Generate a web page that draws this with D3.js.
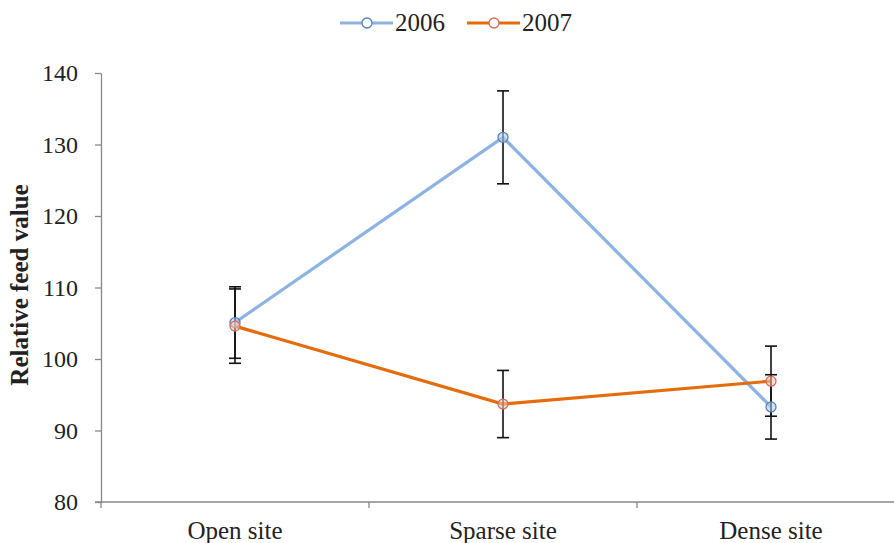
<!DOCTYPE html>
<html>
<head>
<meta charset="utf-8">
<script src="https://cdn.jsdelivr.net/npm/d3@7"></script>
<style>
  body { margin: 0; background: #fff; }
  svg text { font-family: "Liberation Serif", "DejaVu Serif", serif !important; fill: #222; }
</style>
</head>
<body>
<div class="chart"></div>
<script>
// data
const sites = ["Open site", "Sparse site", "Dense site"];
const years = ["2006", "2007"];
const mean2006 = [105.1, 131.0, 93.3];
const err2006 = [5.0, 6.5, 4.5];
const mean2007 = [104.6, 93.7, 96.9];
const err2007 = [5.2, 4.7, 4.9];
const yTicks = [80, 90, 100, 110, 120, 130, 140];

const lineColors = ["#8db3e2", "#e46c0a"];
const markerStroke = ["#4f81bd", "#d9695f"];
const markerFill = ["#b9d0ee", "#f3c7b0"];

const series = [
    { name: years[0], means: mean2006, errs: err2006 },
    { name: years[1], means: mean2007, errs: err2007 }
];

const width = 894, height = 543;

const svg = d3.select("div.chart")
    .append("svg")
    .attr("width", width)
    .attr("height", height)
    .style("font-family", "Liberation Serif, serif");

const x = d3.scaleBand()
    .domain(sites)
    .range([101, 905]);

const y = d3.scaleLinear()
    .domain([80, 140])
    .range([502, 73]);

// y axis
const yAxis = svg.append("g")
    .attr("transform", "translate(101,0)")
    .call(d3.axisLeft(y).tickValues(yTicks).tickSize(6).tickSizeOuter(0).tickPadding(17));
yAxis.attr("font-family", "Liberation Serif, serif");
yAxis.select(".domain").attr("stroke", "#888").attr("stroke-width", 1.3);
yAxis.selectAll(".tick line").attr("stroke", "#888").attr("stroke-width", 1.3);
yAxis.selectAll(".tick text")
    .style("font-size", "24px")
    .attr("fill", "#222");

// x axis
const xAxisG = svg.append("g").attr("transform", "translate(0,502)");
xAxisG.append("line")
    .attr("x1", 95).attr("x2", width)
    .attr("stroke", "#888").attr("stroke-width", 1.3);
xAxisG.selectAll("line.tk")
    .data(sites)
    .enter()
    .append("line")
    .attr("class", "tk")
    .attr("x1", d => x(d)).attr("x2", d => x(d))
    .attr("y1", 0).attr("y2", 6)
    .attr("stroke", "#888").attr("stroke-width", 1.3);
xAxisG.selectAll("text")
    .data(sites)
    .enter()
    .append("text")
    .attr("x", d => x(d) + x.bandwidth() / 2)
    .attr("y", 37)
    .attr("text-anchor", "middle")
    .style("font-size", "25px")
    .text(d => d);

// y title
svg.append("text")
    .attr("transform", "translate(28,285) rotate(-90)")
    .attr("text-anchor", "middle")
    .style("font-size", "25px")
    .style("font-weight", "bold")
    .text("Relative feed value");

const cx = d => x(d) + x.bandwidth() / 2;

// lines
const line = d3.line()
    .x((d, i) => cx(sites[i]))
    .y(d => y(d));

series.forEach(function (s, k) {
    svg.append("path")
        .datum(s.means)
        .attr("fill", "none")
        .attr("stroke", lineColors[k])
        .attr("stroke-width", 3.2)
        .attr("d", line);
});

// error bars
series.forEach(function (s, k) {
    const g = svg.append("g");
    s.means.forEach(function (m, i) {
        const px = cx(sites[i]);
        g.append("line")
            .attr("x1", px).attr("x2", px)
            .attr("y1", y(m + s.errs[i])).attr("y2", y(m - s.errs[i]))
            .attr("stroke", "#111").attr("stroke-width", 1.6);
        [m + s.errs[i], m - s.errs[i]].forEach(function (v) {
            g.append("line")
                .attr("x1", px - 6).attr("x2", px + 6)
                .attr("y1", y(v)).attr("y2", y(v))
                .attr("stroke", "#111").attr("stroke-width", 1.6);
        });
    });
});

// markers
series.forEach(function (s, k) {
    svg.selectAll("circle.s" + k)
        .data(s.means)
        .enter()
        .append("circle")
        .attr("class", "s" + k)
        .attr("cx", (d, i) => cx(sites[i]))
        .attr("cy", d => y(d))
        .attr("r", 5)
        .attr("fill", markerFill[k])
        .attr("fill-opacity", 0.6)
        .attr("stroke", markerStroke[k])
        .attr("stroke-width", 1.3);
});

// legend
const legend = svg.append("g").attr("transform", "translate(340,23)");
series.forEach(function (s, k) {
    const lg = legend.append("g").attr("transform", "translate(" + (k * 127) + ",0)");
    lg.append("line")
        .attr("x1", 0).attr("x2", 53)
        .attr("stroke", lineColors[k]).attr("stroke-width", 3.2);
    lg.append("circle")
        .attr("cx", 27).attr("r", 5)
        .attr("fill", "#fff")
        .attr("stroke", markerStroke[k]).attr("stroke-width", 1.3);
    lg.append("text")
        .attr("x", 55).attr("y", 8)
        .style("font-size", "25px")
        .text(s.name);
});
</script>
</body>
</html>
